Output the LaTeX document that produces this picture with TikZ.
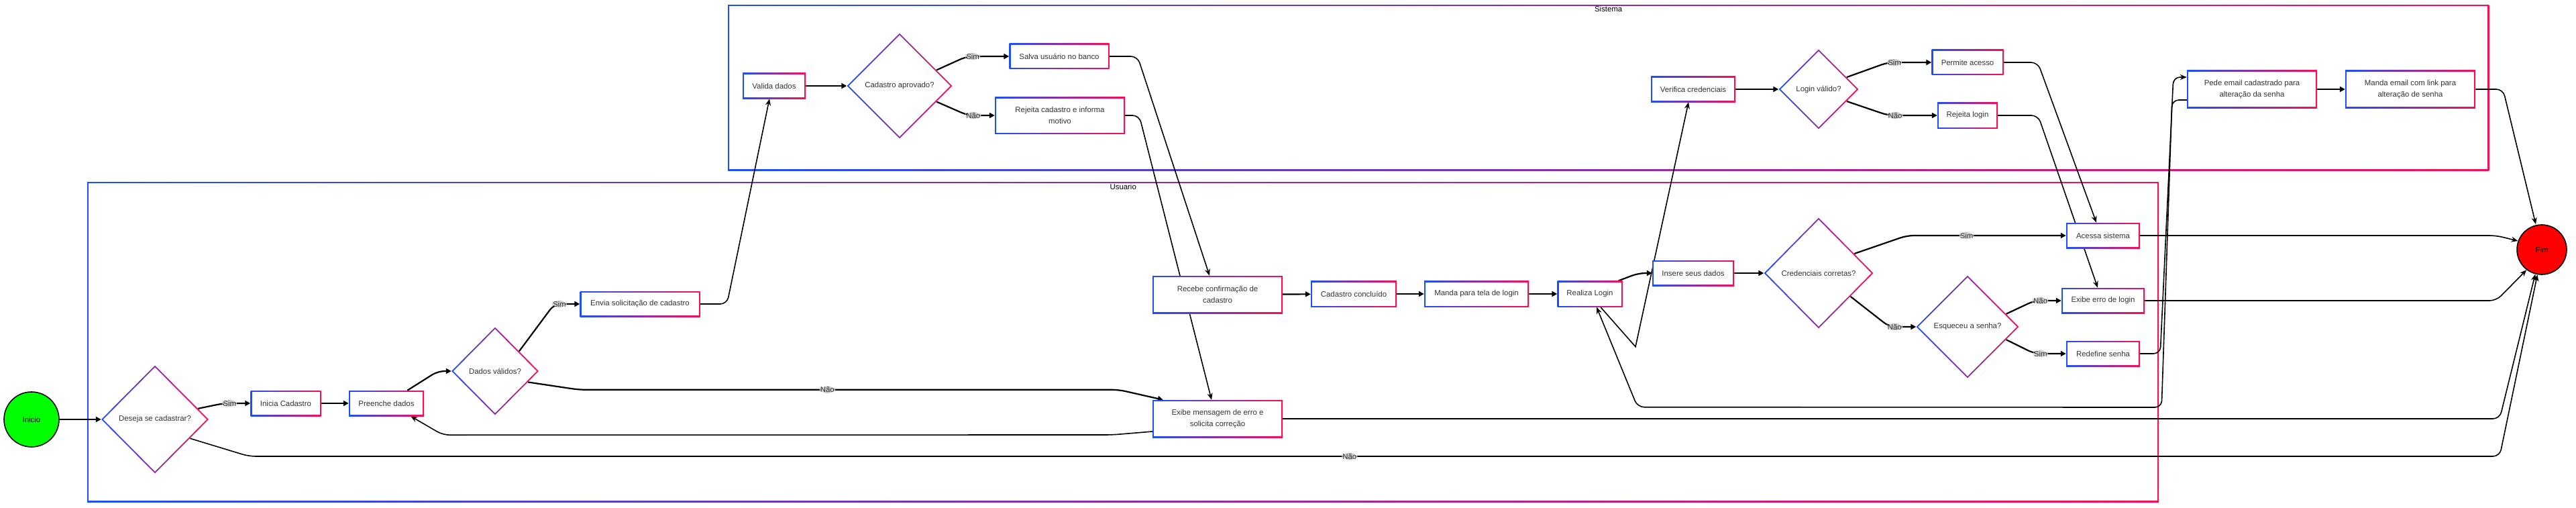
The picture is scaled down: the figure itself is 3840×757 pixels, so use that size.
\documentclass[tikz,border=0pt]{standalone}
\usepackage{fontspec}
\setmainfont{Liberation Sans}
\usetikzlibrary{arrows.meta}
\usetikzlibrary{calc}
\usetikzlibrary{positioning}
\usetikzlibrary{shapes.geometric}

\definecolor{laneblue}{RGB}{28,78,255}
\definecolor{lanered}{RGB}{255,12,82}
\definecolor{labelgray}{RGB}{206,206,206}
\definecolor{textgray}{RGB}{51,51,51}
\definecolor{startgreen}{RGB}{0,255,0}
\definecolor{endred}{RGB}{255,0,0}

\pgfdeclarelayer{background}
\pgfsetlayers{background,main}

% keeps the diamonds from growing around their text
\newcommand{\dtxt}[1]{\makebox[0pt]{#1}}

\begin{document}
\begin{tikzpicture}[x=1pt, y=-1pt,
    every node/.style={font=\fontsize{11.4}{17}\selectfont},
    gradbox/.style={rectangle, inner sep=2pt, align=center, text=textgray,
        left color=laneblue, right color=lanered,
        path picture={\fill[white] ([xshift=2pt,yshift=-2pt]path picture bounding box.north west)
            rectangle ([xshift=-2pt,yshift=2pt]path picture bounding box.south east);}},
    decision/.style={diamond, inner sep=0pt, text=textgray,
        left color=laneblue, right color=lanered,
        path picture={\fill[white] ([yshift=-2.8pt]path picture bounding box.north)
            -- ([xshift=-2.8pt]path picture bounding box.east)
            -- ([yshift=2.8pt]path picture bounding box.south)
            -- ([xshift=2.8pt]path picture bounding box.west) -- cycle;}},
    lanebox/.style={rectangle, anchor=north west, inner sep=0pt,
        left color=laneblue, right color=lanered,
        path picture={\fill[white] ([xshift=2.2pt,yshift=-2.2pt]path picture bounding box.north west)
            rectangle ([xshift=-2.2pt,yshift=2.2pt]path picture bounding box.south east);}},
    lanetitle/.style={text=black, inner sep=1pt},
    terminal/.style={circle, draw=black, line width=1.6pt, inner sep=0pt, text=black},
    answer/.style={fill=labelgray, inner sep=1pt, text=textgray},
    flow/.style={line width=2.2pt, rounded corners=10pt, -{Triangle[length=8pt,width=8pt]}},
    link/.style={line width=1.6pt, rounded corners=10pt, -{Stealth[length=10pt,width=8pt]}}]

\useasboundingbox (0,0) rectangle (3840,757);

% lanes
\begin{pgfonlayer}{background}
\node[lanebox, minimum width=3088, minimum height=477] (usuario) at (130,271) {};
\node[lanetitle, below=2pt of usuario.north] (usuarioTitle) {Usuario};
\node[lanebox, minimum width=2625, minimum height=247] (sistema) at (1085,7) {};
\node[lanetitle, below=1pt of sistema.north] (sistemaTitle) {Sistema};
\end{pgfonlayer}

% start and end
\node[terminal, fill=startgreen, minimum size=82] (inicio) at (47,625) {Inicio};
\node[terminal, fill=endred, minimum size=74] (fim) at (3789,372) {Fim};

% cadastro (usuario)
\node[decision, minimum width=160, minimum height=161] (deseja) at (231,625) {\dtxt{Deseja se cadastrar?}};
\node[gradbox, minimum width=105, minimum height=38] (iniciaCad) at (426,601) {Inicia Cadastro};
\node[gradbox, minimum width=112, minimum height=38] (preenche) at (576,601) {Preenche dados};
\node[decision, minimum width=130, minimum height=131] (dados) at (738,553) {\dtxt{Dados válidos?}};
\node[gradbox, minimum width=179, minimum height=38] (envia) at (954,453) {Envia solicitação de cadastro};
\node[gradbox, minimum width=194, minimum height=56] (recebe) at (1815,439) {Recebe confirmação de\\cadastro};
\node[gradbox, minimum width=194, minimum height=56] (exibeMsg) at (1815,624) {Exibe mensagem de erro e\\solicita correção};
\node[gradbox, minimum width=128, minimum height=39] (cadConcl) at (2018,438) {Cadastro concluído};
\node[gradbox, minimum width=156, minimum height=39] (mandaLogin) at (2201,438) {Manda para tela de login};

% cadastro (sistema)
\node[gradbox, minimum width=94, minimum height=38] (valida) at (1154,128) {Valida dados};
\node[decision, minimum width=157, minimum height=157] (cadAprov) at (1341,128) {\dtxt{Cadastro aprovado?}};
\node[gradbox, minimum width=149, minimum height=38] (salva) at (1579,84) {Salva usuário no banco};
\node[gradbox, minimum width=194, minimum height=55] (rejeitaCad) at (1580,172) {Rejeita cadastro e informa\\motivo};

% login (usuario)
\node[gradbox, minimum width=97, minimum height=39] (realiza) at (2370,438) {Realiza Login};
\node[gradbox, minimum width=122, minimum height=38] (insere) at (2524,407) {Insere seus dados};
\node[decision, minimum width=163, minimum height=165] (credenciais) at (2711,407) {\dtxt{Credenciais corretas?}};
\node[decision, minimum width=153, minimum height=153] (esqueceu) at (2933,487) {\dtxt{Esqueceu a senha?}};
\node[gradbox, minimum width=110, minimum height=38] (acessa) at (3135,351) {Acessa sistema};
\node[gradbox, minimum width=124, minimum height=38] (exibeErro) at (3135,448) {Exibe erro de login};
\node[gradbox, minimum width=110, minimum height=38] (redefine) at (3135,527) {Redefine senha};

% login (sistema)
\node[gradbox, minimum width=126, minimum height=38] (verifica) at (2524,133) {Verifica credenciais};
\node[decision, minimum width=119, minimum height=119] (loginValido) at (2711,133) {\dtxt{Login válido?}};
\node[gradbox, minimum width=107, minimum height=38] (permite) at (2933,93) {Permite acesso};
\node[gradbox, minimum width=90, minimum height=39] (rejeitaLogin) at (2933,172) {Rejeita login};
\node[gradbox, minimum width=194, minimum height=56] (pedeEmail) at (3357,133) {Pede email cadastrado para\\alteração da senha};
\node[gradbox, minimum width=194, minimum height=56] (mandaEmail) at (3593,133) {Manda email com link para\\alteração de senha};

% connectors
\begin{pgfonlayer}{background}
\draw[flow] (inicio) -- (deseja);
\draw[flow] ($(deseja.east)!0.2!(deseja.north)$) -- ($(iniciaCad.west)+(-40,0)$) -- (iniciaCad.west) node[answer, pos=0.225] {Sim};
\draw[link] ($(deseja.east)!0.35!(deseja.south)$) -- ($(deseja.east)+(60,55)$) -- ($(fim.west)+(-25,308)$) node[answer, pos=0.489] {Não} -- (fim.260);
\draw[flow] (iniciaCad) -- (preenche);
\draw[flow] ($(preenche.north east)+(-25,0)$) -- ($(dados.west)+(-20,0)$) -- (dados.west);
\draw[flow] ($(dados.east)!0.45!(dados.north)$) -- ($(envia.west)+(-38,0)$) -- (envia.west) node[answer, pos=0.2] {Sim};
\draw[flow] ($(dados.east)!0.25!(dados.south)$) -- ($(dados.east |- exibeMsg.north)+(60,-15)$) -- ($(exibeMsg.north west)+(-50,-15)$) node[answer, pos=0.46] {Não} -- ($(exibeMsg.north west)+(16,0)$);
\draw[link] (envia.east) -- ($(envia.east)+(40,0)$) -- ($(valida.south)+(-7,0)$);
\draw[flow] (valida) -- (cadAprov);
\draw[flow] ($(cadAprov.east)!0.3!(cadAprov.north)$) -- ($(salva.west)+(-63,0)$) -- (salva.west) node[answer, pos=0.14] {Sim};
\draw[flow] ($(cadAprov.east)!0.3!(cadAprov.south)$) -- ($(rejeitaCad.west)+(-40,0)$) -- (rejeitaCad.west) node[answer, pos=0.2] {Não};
\draw[link] (salva.east) -- ($(salva.east)+(42,0)$) -- ($(recebe.north)+(-12,0)$);
\draw[link] (rejeitaCad.east) -- ($(rejeitaCad.east)+(21,0)$) -- ($(exibeMsg.north)+(-9,0)$);
\draw[link] ($(exibeMsg.west)+(0,19)$) -- ($(exibeMsg.west)+(-60,24)$) -- ($(preenche.south east)+(28,28)$) -- ($(preenche.south east)+(-20,0)$);
\draw[link] (exibeMsg.east) -- ($(exibeMsg.east -| fim.west)+(-25,0)$) -- (fim.255);
\draw[flow] (recebe) -- (cadConcl);
\draw[flow] (cadConcl) -- (mandaLogin);
\draw[flow] (mandaLogin) -- (realiza);
\draw[flow] ($(realiza.north east)+(-6,0)$) -- ($(insere.west)+(-20,0)$) -- (insere.west);
\draw[link, sharp corners] ($(realiza.south)+(16,0)$) -- ($(realiza.south)+(68,59)$) -- ($(verifica.south)+(-7,0)$);
\draw[flow] (insere) -- (credenciais);
\draw[flow] (verifica) -- (loginValido);
\draw[flow] ($(loginValido.east)!0.3!(loginValido.north)$) -- ($(permite.west)+(-65,0)$) -- (permite.west) node[answer, pos=0.15] {Sim};
\draw[flow] ($(loginValido.east)!0.3!(loginValido.south)$) -- ($(rejeitaLogin.west)+(-73,0)$) -- (rejeitaLogin.west) node[answer, pos=0.14] {Não};
\draw[link] (permite.east) -- ($(permite.east)+(51,0)$) -- ($(acessa.north)+(-10,0)$);
\draw[link] (rejeitaLogin.east) -- ($(rejeitaLogin.east)+(60,0)$) -- ($(exibeErro.north)+(-8,0)$);
\draw[flow] ($(credenciais.east)!0.35!(credenciais.north)$) -- ($(credenciais.east |- acessa.west)+(50,0)$) -- (acessa.west) node[answer, pos=0.375] {Sim};
\draw[flow] ($(credenciais.east)!0.42!(credenciais.south)$) -- ($(esqueceu.west)+(-40,0)$) -- (esqueceu.west) node[answer, pos=0.2] {Não};
\draw[flow] ($(esqueceu.east)!0.25!(esqueceu.north)$) -- ($(exibeErro.west)+(-40,0)$) -- (exibeErro.west) node[answer, pos=0.22] {Não};
\draw[flow] ($(esqueceu.east)!0.25!(esqueceu.south)$) -- ($(redefine.west)+(-47,0)$) -- (redefine.west) node[answer, pos=0.19] {Sim};
\draw[link] (acessa.east) -- ($(acessa.east -| fim.west)+(-30,0)$) -- (fim.160);
\draw[link] (exibeErro.east) -- ($(exibeErro.east -| fim.west)+(-30,0)$) -- (fim.233);
\draw[link] (redefine.east) -- ($(redefine.east)+(30,0)$) -- ($(pedeEmail.west)+(-20,-18)$) -- ($(pedeEmail.west)+(0,-18)$);
\draw[link] ($(pedeEmail.west)+(0,16)$) -- ($(pedeEmail.west)+(-22,16)$) -- ($(redefine.east)+(32,80)$) -- ($(realiza.south)+(71,149)$) -- ($(realiza.south)+(10,0)$);
\draw[flow] (pedeEmail) -- (mandaEmail);
\draw[link] (mandaEmail.east) -- ($(mandaEmail.east)+(41,0)$) -- ($(fim.north)+(-9,0)$);
\end{pgfonlayer}
\end{tikzpicture}
\end{document}
